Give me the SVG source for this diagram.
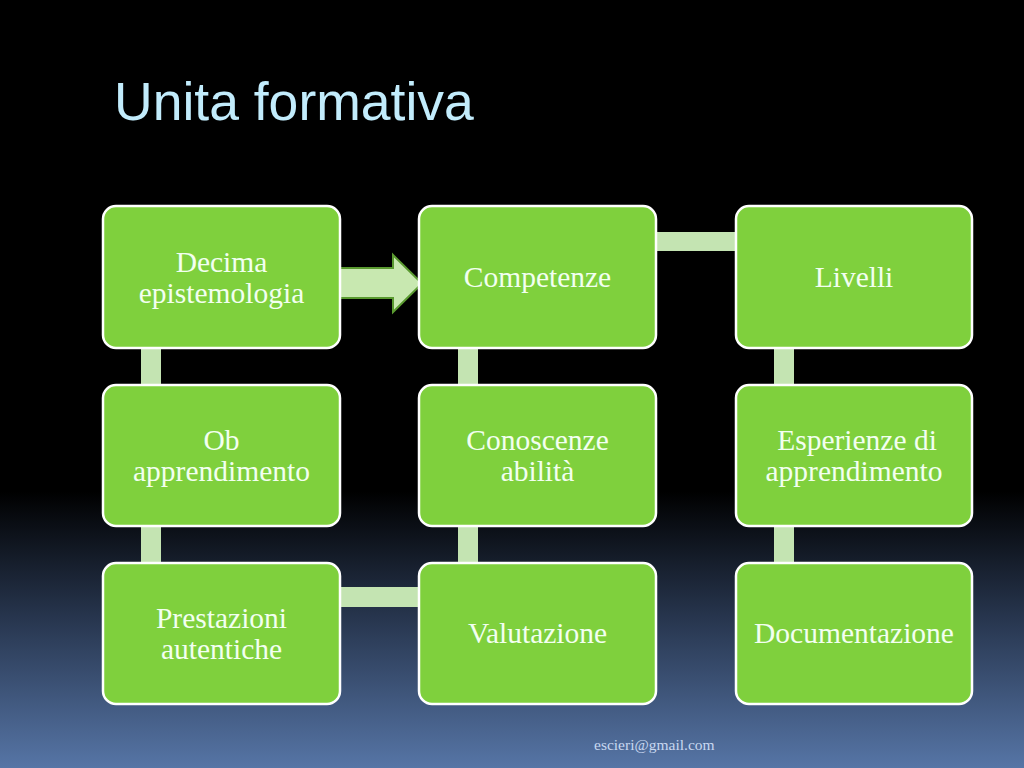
<svg xmlns="http://www.w3.org/2000/svg" width="1024" height="768" viewBox="0 0 1024 768">
<defs>
<linearGradient id="bg" x1="0" y1="0" x2="0" y2="1">
<stop offset="0" stop-color="#000000"/>
<stop offset="0.64" stop-color="#000000"/>
<stop offset="0.8" stop-color="#26344c"/>
<stop offset="1" stop-color="#5675a6"/>
</linearGradient>
<style>
.box{fill:#7fd03d;stroke:#ffffff;stroke-width:2.5}
.link{fill:#c4e4b2}
.lbl{font-family:"Liberation Serif",serif;font-size:29.5px;fill:#f2fff0;text-anchor:middle}
</style>
</defs>
<rect width="1024" height="768" fill="url(#bg)"/>
<text x="114" y="120" font-family="Liberation Sans, Arial, sans-serif" font-size="53.5" fill="#c2ecfc">Unita formativa</text>
<g id="connectors">
<rect class="link" x="141" y="346" width="20" height="41"/>
<rect class="link" x="141" y="524" width="20" height="41"/>
<rect class="link" x="458" y="346" width="20" height="41"/>
<rect class="link" x="458" y="524" width="20" height="41"/>
<rect class="link" x="774" y="346" width="20" height="41"/>
<rect class="link" x="774" y="524" width="20" height="41"/>
<rect class="link" x="654" y="232" width="84" height="19"/>
<rect class="link" x="338" y="587" width="83" height="20"/>
<polygon points="334,268 393,268 393,255 422,283.5 393,312 393,298 334,298" fill="#c8e8b0" stroke="#5a9a30" stroke-width="2"/>
</g>
<g id="n1"><rect class="box" x="103" y="206" width="237" height="142" rx="13"/><text class="lbl" x="221.5" y="272">Decima</text><text class="lbl" x="221.5" y="303">epistemologia</text></g>
<g id="n2"><rect class="box" x="419" y="206" width="237" height="142" rx="13"/><text class="lbl" x="537.5" y="287">Competenze</text></g>
<g id="n3"><rect class="box" x="736" y="206" width="236" height="142" rx="13"/><text class="lbl" x="854" y="287">Livelli</text></g>
<g id="n4"><rect class="box" x="103" y="385" width="237" height="141" rx="13"/><text class="lbl" x="221.5" y="450">Ob</text><text class="lbl" x="221.5" y="481">apprendimento</text></g>
<g id="n5"><rect class="box" x="419" y="385" width="237" height="141" rx="13"/><text class="lbl" x="537.5" y="450">Conoscenze</text><text class="lbl" x="537.5" y="481">abilità</text></g>
<g id="n6"><rect class="box" x="736" y="385" width="236" height="141" rx="13"/><text class="lbl" x="857" y="450">Esperienze di</text><text class="lbl" x="854" y="481">apprendimento</text></g>
<g id="n7"><rect class="box" x="103" y="563" width="237" height="141" rx="13"/><text class="lbl" x="221.5" y="628">Prestazioni</text><text class="lbl" x="221.5" y="659">autentiche</text></g>
<g id="n8"><rect class="box" x="419" y="563" width="237" height="141" rx="13"/><text class="lbl" x="537.5" y="643">Valutazione</text></g>
<g id="n9"><rect class="box" x="736" y="563" width="236" height="141" rx="13"/><text class="lbl" x="854" y="643">Documentazione</text></g>
<text x="594" y="750" font-family="Liberation Serif, serif" font-size="15.5" fill="#c8d8f0">escieri@gmail.com</text>
</svg>
